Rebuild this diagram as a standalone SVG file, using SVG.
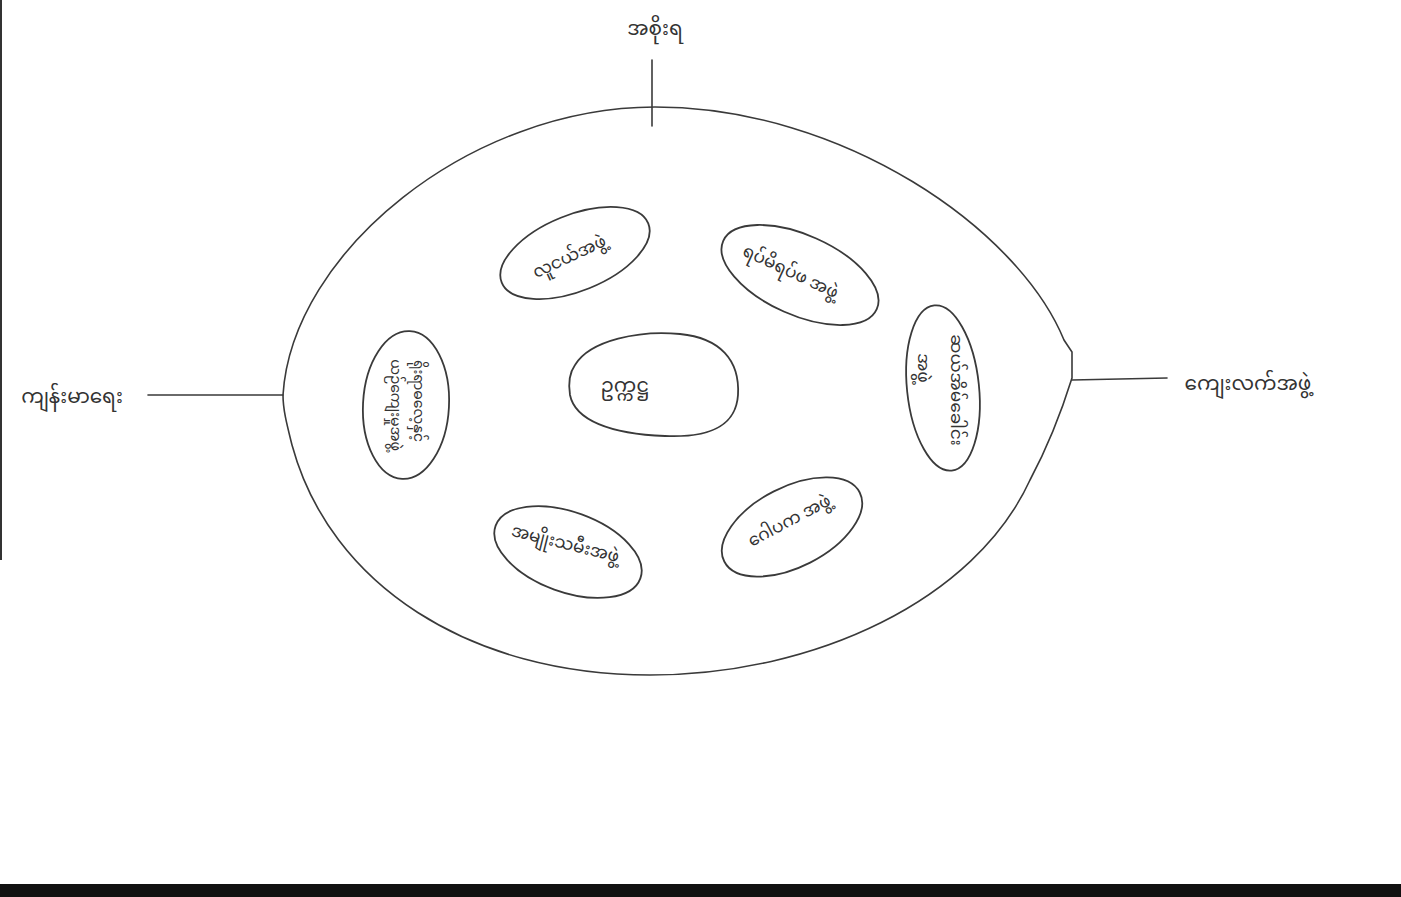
<svg xmlns="http://www.w3.org/2000/svg" width="1401" height="897" viewBox="0 0 1401 897">
<style>
  .ln{fill:none;stroke:#3a3a3a;stroke-width:1.6;stroke-linecap:round}
  .nd{fill:#fff;stroke:#3a3a3a;stroke-width:1.8}
  .t{font-family:"Noto Sans Myanmar","Padauk","Myanmar Text","Noto Sans",sans-serif;fill:#333;text-anchor:middle;dominant-baseline:central}
  .s{font-size:17px}
  .xs{font-size:14px}
  .m{font-size:20px}
</style>
<rect width="1401" height="897" fill="#fff"/>
<rect x="0" y="884" width="1401" height="13" fill="#111"/>
<rect x="0" y="0" width="2" height="560" fill="#333"/>

<g id="outer">
  <path class="ln" d="M283,395 C292,252 470,107 655,107 C842,107 1018,228 1064,340 L1072,352 L1072,378 C1062,410 1046,450 1030,480 C975,600 815,675 650,675 C470,675 330,585 292,445 C287,425 283,410 283,395 Z"/>
</g>

<g id="connectors">
  <line class="ln" x1="652" y1="60" x2="652" y2="126"/>
  <line class="ln" x1="148" y1="395" x2="283" y2="395"/>
  <line class="ln" x1="1072" y1="380" x2="1167" y2="378"/>
</g>

<g id="n-government"><text class="t m" x="655" y="30">အစိုးရ</text></g>
<g id="n-health"><text class="t m" x="72" y="398">ကျန်းမာရေး</text></g>
<g id="n-rural"><text class="t m" x="1248" y="385">ကျေးလက်အဖွဲ့</text></g>

<g id="n-center">
  <path class="nd" d="M575,365 C590,340 640,330 680,334 C720,338 740,360 738,395 C736,425 712,438 665,436 C610,434 575,420 570,395 C568,382 570,372 575,365 Z"/>
  <text class="t m" x="625" y="387">ဥက္ကဋ္ဌ</text>
</g>

<g id="n-youth">
  <ellipse class="nd" cx="575" cy="253" rx="79" ry="38" transform="rotate(-22 575 253)"/>
  <text class="t s" x="570" y="258" transform="rotate(-25 570 258)">လူငယ်အဖွဲ့</text>
</g>

<g id="n-elders">
  <ellipse class="nd" cx="800" cy="275" rx="84" ry="40" transform="rotate(24 800 275)"/>
  <text class="t s" x="790" y="273" transform="rotate(25 790 273)">ရပ်မိရပ်ဖ အဖွဲ့</text>
</g>

<g id="n-tenhouse">
  <ellipse class="nd" cx="943" cy="388" rx="36" ry="83" transform="rotate(-6 943 388)"/>
  <text class="t s" transform="translate(950 390) rotate(90)"><tspan x="0" y="-5">ဆယ်အိမ်ခေါင်း</tspan><tspan x="-22" y="28">အဖွဲ့</tspan></text>
</g>

<g id="n-culture">
  <ellipse class="nd" cx="406" cy="405" rx="43" ry="74" transform="rotate(3 406 405)"/>
  <text class="t xs" transform="translate(406 405) rotate(90)"><tspan x="-4" y="-12">ရိုးရာဓလေ့နှင့်</tspan><tspan x="0" y="11">ယဉ်ကျေးမှုအဖွဲ့</tspan></text>
</g>

<g id="n-trustees">
  <ellipse class="nd" cx="792" cy="527" rx="76" ry="40" transform="rotate(-27 792 527)"/>
  <text class="t s" x="790" y="522" transform="rotate(-28 790 522)">ဂေါပက အဖွဲ့</text>
</g>

<g id="n-women">
  <ellipse class="nd" cx="568" cy="552" rx="77" ry="40" transform="rotate(20 568 552)"/>
  <text class="t s" x="565" y="545" transform="rotate(14 565 545)">အမျိုးသမီးအဖွဲ့</text>
</g>
</svg>
